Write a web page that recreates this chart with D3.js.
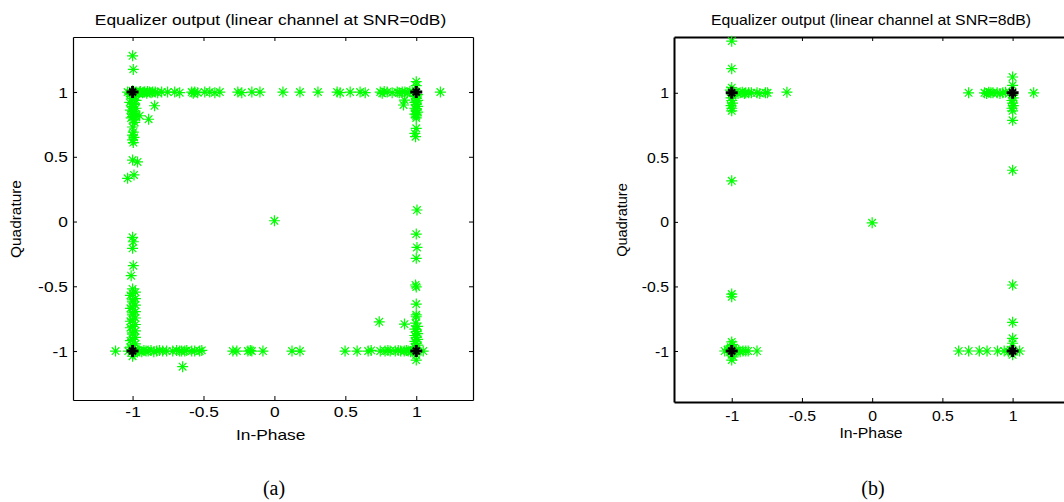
<!DOCTYPE html>
<html><head><meta charset="utf-8">
<script src="https://cdn.jsdelivr.net/npm/d3@7"></script>
<style>body{margin:0;background:#fff}svg{display:block}</style>
</head><body><svg id="c" width="1064" height="502"></svg>
<script>
// ---------- data ----------
const xTicks = [-1, -0.5, 0, 0.5, 1];
const yTicks = [-1, -0.5, 0, 0.5, 1];
const idealPoints = [[-1, 1], [1, 1], [-1, -1], [1, -1]];
const titleA = "Equalizer output (linear channel at SNR=0dB)";
const titleB = "Equalizer output (linear channel at SNR=8dB)";
const xLabel = "In-Phase";
const yLabel = "Quadrature";
const captionA = "(a)";
const captionB = "(b)";

// equalizer output samples [in-phase, quadrature], SNR = 0 dB
const eqA = [
  [-1.035,1.0],[-1.02,0.99],[-1.0,1.01],[-0.99,0.995],[-0.975,1.0],[-0.96,0.99],[-0.945,1.005],[-0.93,0.995],
  [-0.915,1.0],[-0.9,0.99],[-0.894,1.005],[-0.87,0.995],[-0.859,1.0],[-0.84,1.0],[-0.823,0.995],[-0.795,1.0],
  [-0.753,1.0],[-0.703,1.0],[-0.668,0.995],[-0.583,1.0],[-0.572,0.99],[-0.562,1.0],[-0.541,0.995],[-0.491,1.0],
  [-0.456,1.0],[-0.42,0.995],[-0.385,1.0],[-0.258,1.0],[-0.23,0.995],[-0.159,1.0],[-0.102,1.0],[0.06,1.0],
  [0.18,1.0],[0.307,1.0],[0.442,1.0],[0.463,0.995],[0.534,1.0],[0.604,1.0],[0.64,0.995],[0.746,1.0],
  [0.76,0.99],[0.774,1.005],[0.795,1.0],[0.83,0.995],[0.866,1.0],[0.901,1.0],[0.936,0.995],[0.955,1.005],
  [0.972,1.0],[0.985,0.99],[1.17,1.0],[-0.98,0.99],[-0.95,1.0],[-0.92,1.0],[-0.88,1.0],[0.88,0.995],[0.92,1.0],
  [-1.0,1.28],[-0.995,1.175],[-1.015,0.98],[-0.98,0.965],[-1.0,0.95],[-0.975,0.935],[-1.02,0.92],[-0.99,0.905],
  [-1.0,0.89],[-0.975,0.875],[-1.015,0.86],[-0.985,0.845],[-1.0,0.83],[-0.975,0.815],[-1.01,0.80],[-0.99,0.785],
  [-1.0,0.97],[-1.0,0.91],[-1.0,0.85],[-1.0,0.81],[-0.985,0.765],
  [-1.0,0.73],[-0.995,0.69],[-1.0,0.668],[-0.99,0.65],[-1.0,0.63],[-0.995,0.61],[-1.0,0.475],[-0.965,0.46],
  [-0.99,0.36],[-1.035,0.334],
  [-0.845,0.894],[-0.95,0.817],[-0.887,0.79],
  [-1.0,-0.122],[-0.995,-0.156],[-1.0,-0.207],[-0.995,-0.341],[-1.01,-0.418],
  [-1.0,-0.52],[-0.98,-0.545],[-1.015,-0.57],[-0.98,-0.595],[-1.0,-0.62],[-0.98,-0.645],[-1.015,-0.67],[-0.98,-0.695],
  [-1.0,-0.72],[-0.98,-0.745],[-1.015,-0.77],[-0.98,-0.795],[-1.015,-0.82],[-0.98,-0.845],[-1.0,-0.87],[-0.98,-0.895],
  [-1.015,-0.92],[-0.98,-0.945],[-1.015,-0.97],[-0.98,-0.985],
  [-1.0,-0.555],[-1.0,-0.605],[-1.0,-0.66],[-1.0,-0.705],[-1.0,-0.76],[-1.0,-0.81],[-1.0,-0.86],[-1.0,-0.91],[-1.0,-0.955],
  [-1.12,-1.0],[-1.03,-1.0],[-0.98,-1.005],[-0.965,-0.995],[-0.95,-1.0],[-0.935,-1.005],[-0.92,-0.995],[-0.905,-1.0],
  [-0.89,-1.0],[-0.87,-0.995],[-0.85,-1.005],[-0.83,-1.0],[-0.81,-0.995],[-0.788,-1.0],[-0.76,-1.0],[-0.717,-1.0],
  [-0.69,-0.995],[-0.668,-1.0],[-0.654,-1.0],[-0.632,-1.0],[-0.618,-0.995],[-0.583,-1.0],[-0.562,-1.0],[-0.527,-1.0],
  [-0.512,-0.995],[-0.293,-1.0],[-0.265,-1.0],[-0.187,-1.0],[-0.17,-0.995],[-0.159,-1.0],[-0.081,-1.0],[0.124,-1.0],
  [0.18,-1.0],[-0.647,-1.121],[-1.0,-1.04],[-0.99,-1.02],
  [0.498,-1.0],[0.583,-1.0],[0.661,-1.0],[0.682,-0.995],[0.746,-1.0],[0.78,-1.0],[0.80,-0.995],[0.816,-1.0],
  [0.852,-1.0],[0.873,-0.995],[0.89,-1.0],[0.915,-1.0],[0.93,-0.995],[0.943,-1.0],[0.96,-1.005],[0.972,-1.0],
  [0.985,-0.995],[1.049,-1.0],
  [1.005,0.089],[1.0,-0.097],[1.005,-0.2],[1.0,-0.284],[0.995,-0.49],[1.0,-0.505],[1.0,-0.637],[1.0,-0.72],
  [1.0,-0.735],[0.995,-0.784],[1.01,-0.81],[0.99,-0.83],[1.0,-0.85],[1.01,-0.865],[0.99,-0.88],[1.0,-0.895],
  [1.01,-0.91],[0.99,-0.925],[1.0,-0.94],[1.01,-0.955],[0.99,-0.97],[1.0,-1.07],[1.0,-0.98],[1.0,-1.03],
  [0.739,-0.774],[0.917,-0.792],
  [1.0,1.08],[1.0,1.05],[1.01,0.98],[0.99,0.965],[1.0,0.95],[1.01,0.935],[0.99,0.92],[1.0,0.905],
  [1.01,0.89],[0.99,0.875],[1.0,0.86],[1.01,0.845],[0.99,0.83],[1.0,0.815],[1.0,0.80],[1.0,0.72],
  [0.99,0.681],[0.995,0.655],[0.917,0.938],[0.91,0.90],[1.0,0.97],[1.0,0.93],[1.0,0.87],[1.0,0.83],
  [0.0,0.006]
];

// equalizer output samples [in-phase, quadrature], SNR = 8 dB
const eqB = [
  [-1.0,1.40],[-1.0,1.187],
  [-0.985,1.0],[-0.97,1.005],[-0.955,0.995],[-0.94,1.0],[-0.925,1.005],[-0.91,0.995],[-0.9,1.0],[-0.88,1.0],
  [-0.86,1.0],[-0.82,1.0],[-0.80,0.995],[-0.76,1.0],[-0.745,1.0],[-0.607,1.005],
  [-1.01,1.02],[-1.0,1.04],[-0.995,0.98],[-1.005,0.96],[-1.0,0.94],[-0.995,0.92],[-1.005,0.90],[-1.0,0.88],[-1.0,0.86],
  [-1.0,0.318],
  [-1.0,-0.559],[-1.0,-0.58],
  [-1.05,-1.0],[-1.03,-0.99],[-0.98,-1.005],[-0.966,-1.0],[-0.95,-0.995],[-0.94,-1.005],[-0.92,-1.0],[-0.9,-1.0],
  [-0.883,-1.0],[-0.82,-1.0],
  [-1.0,-0.93],[-0.995,-0.95],[-1.005,-0.97],[-1.0,-1.03],[-0.99,-1.045],[-1.0,-1.07],[-1.01,-1.01],[-0.985,-0.975],[-1.015,-0.985],
  [0.687,1.0],[0.80,1.0],[0.815,0.995],[0.83,1.005],[0.845,1.0],[0.86,1.0],[0.89,1.0],[0.91,0.995],
  [0.93,1.0],[0.95,1.005],[0.98,1.0],[1.15,1.0],
  [1.0,1.122],[1.0,1.058],[1.0,0.98],[1.005,0.96],[0.995,0.94],[1.0,0.92],[1.005,0.90],[0.995,0.88],[1.0,0.86],[1.0,0.787],
  [1.0,0.40],[0.0,-0.007],
  [1.0,-0.489],[1.0,-0.778],[1.0,-0.902],[1.0,-0.94],
  [0.616,-1.0],[0.687,-1.0],[0.763,-1.0],[0.818,-1.0],[0.893,-1.0],[0.94,-1.0],[0.97,-1.005],[1.05,-1.0],
  [1.0,-1.03],[0.985,-0.99]
];

// ---------- layout ----------
const panels = [
  { data: eqA, title: titleA, caption: captionA,
    box: {x0: 73, x1: 473, y0: 37, y1: 400}, xDom: [-1.42, 1.40], yDom: [-1.378, 1.425],
    sx: 1.24, lineW: 1.2, titleX: 270.5, labelX: 270.7, xTickY: 416.5, xLabY: 440,
    yLabX: 21, yLabSx: 1.1, yTickRight: 68, capX: 274 },
  { data: eqB, title: titleB, caption: captionB,
    box: {x0: 674, x1: 1073, y0: 37, y1: 402}, xDom: [-1.411, 1.43], yDom: [-1.395, 1.432],
    sx: 1.13, lineW: 2, titleX: 871, labelX: 871, xTickY: 421, xLabY: 438,
    yLabX: 627, yLabSx: 1.04, yTickRight: 669, capX: 873 }
];

const svg = d3.select("#c");
const FONT = "'Liberation Sans', Arial, Helvetica, sans-serif";
const star = "M-5.5,0H5.5M0,-5.5V5.5M-3.8,-3.8L3.8,3.8M-3.8,3.8L3.8,-3.8";
const plus = "M-6,0H6M0,-6V6";

panels.forEach(p => {
  const g = svg.append("g");
  const x = d3.scaleLinear().domain(p.xDom).range([p.box.x0, p.box.x1]);
  const y = d3.scaleLinear().domain(p.yDom).range([p.box.y1, p.box.y0]);
  const fmt = d => String(d);

  const ax = [
    {a: d3.axisBottom(x).tickValues(xTicks).tickFormat(fmt), t: `translate(0,${p.box.y1})`, lab: "b"},
    {a: d3.axisTop(x).tickValues(xTicks).tickFormat(""), t: `translate(0,${p.box.y0})`},
    {a: d3.axisLeft(y).tickValues(yTicks).tickFormat(fmt), t: `translate(${p.box.x0},0)`, lab: "l"},
    {a: d3.axisRight(y).tickValues(yTicks).tickFormat(""), t: `translate(${p.box.x1},0)`}
  ];
  ax.forEach(o => {
    const ag = g.append("g").attr("transform", o.t)
      .call(o.a.tickSizeInner(-4).tickSizeOuter(0));
    ag.select(".domain").attr("stroke", "#000").attr("stroke-width", p.lineW);
    ag.selectAll(".tick line").attr("stroke", "#000").attr("stroke-width", 1);
    ag.selectAll("text").attr("font-family", FONT).attr("font-size", 14).attr("fill", "#000");
    if (o.lab === "b") {
      ag.selectAll("text").attr("y", null).attr("dy", null)
        .attr("transform", `translate(0,${p.xTickY - p.box.y1}) scale(${p.sx},1)`);
    } else if (o.lab === "l") {
      ag.selectAll("text").attr("x", null).attr("dy", "0.36em").attr("text-anchor", "end")
        .attr("transform", `translate(${p.yTickRight - p.box.x0},0) scale(${p.sx},1)`);
    }
    ag.attr("font-family", null).attr("font-size", null);
  });

  g.append("text").text(p.title)
    .attr("transform", `translate(${p.titleX},25) scale(${p.sx},1)`)
    .attr("text-anchor", "middle").attr("font-family", FONT).attr("font-size", 14).attr("fill", "#000");
  g.append("text").text(xLabel)
    .attr("transform", `translate(${p.labelX},${p.xLabY}) scale(${p.sx},1)`)
    .attr("text-anchor", "middle").attr("font-family", FONT).attr("font-size", 14).attr("fill", "#000");
  g.append("text").text(yLabel)
    .attr("transform", `translate(${p.yLabX},${(p.box.y0 + p.box.y1) / 2 + 0.5}) rotate(-90) scale(${p.yLabSx},1)`)
    .attr("text-anchor", "middle").attr("font-family", FONT).attr("font-size", 14).attr("fill", "#000");
  svg.append("text").text(p.caption)
    .attr("x", p.capX).attr("y", 495)
    .attr("text-anchor", "middle").attr("font-family", "'Liberation Serif', 'Times New Roman', serif")
    .attr("font-size", 20).attr("fill", "#000");

  g.append("g").selectAll("path").data(p.data).join("path")
    .attr("d", star)
    .attr("transform", d => `translate(${x(d[0])},${y(d[1])})`)
    .attr("fill", "none").attr("stroke", "#00ff00").attr("stroke-width", 1.2);
  const ig = g.append("g").selectAll("g").data(idealPoints).join("g")
    .attr("transform", d => `translate(${x(d[0])},${y(d[1])})`);
  ig.append("path").attr("d", plus).attr("stroke", "#000").attr("stroke-width", 3).attr("fill", "none");
  ig.append("path").attr("d", "M-3.5,-3.5L3.5,3.5M-3.5,3.5L3.5,-3.5").attr("stroke", "#000").attr("stroke-width", 2).attr("fill", "none");
});
</script>
</body></html>
